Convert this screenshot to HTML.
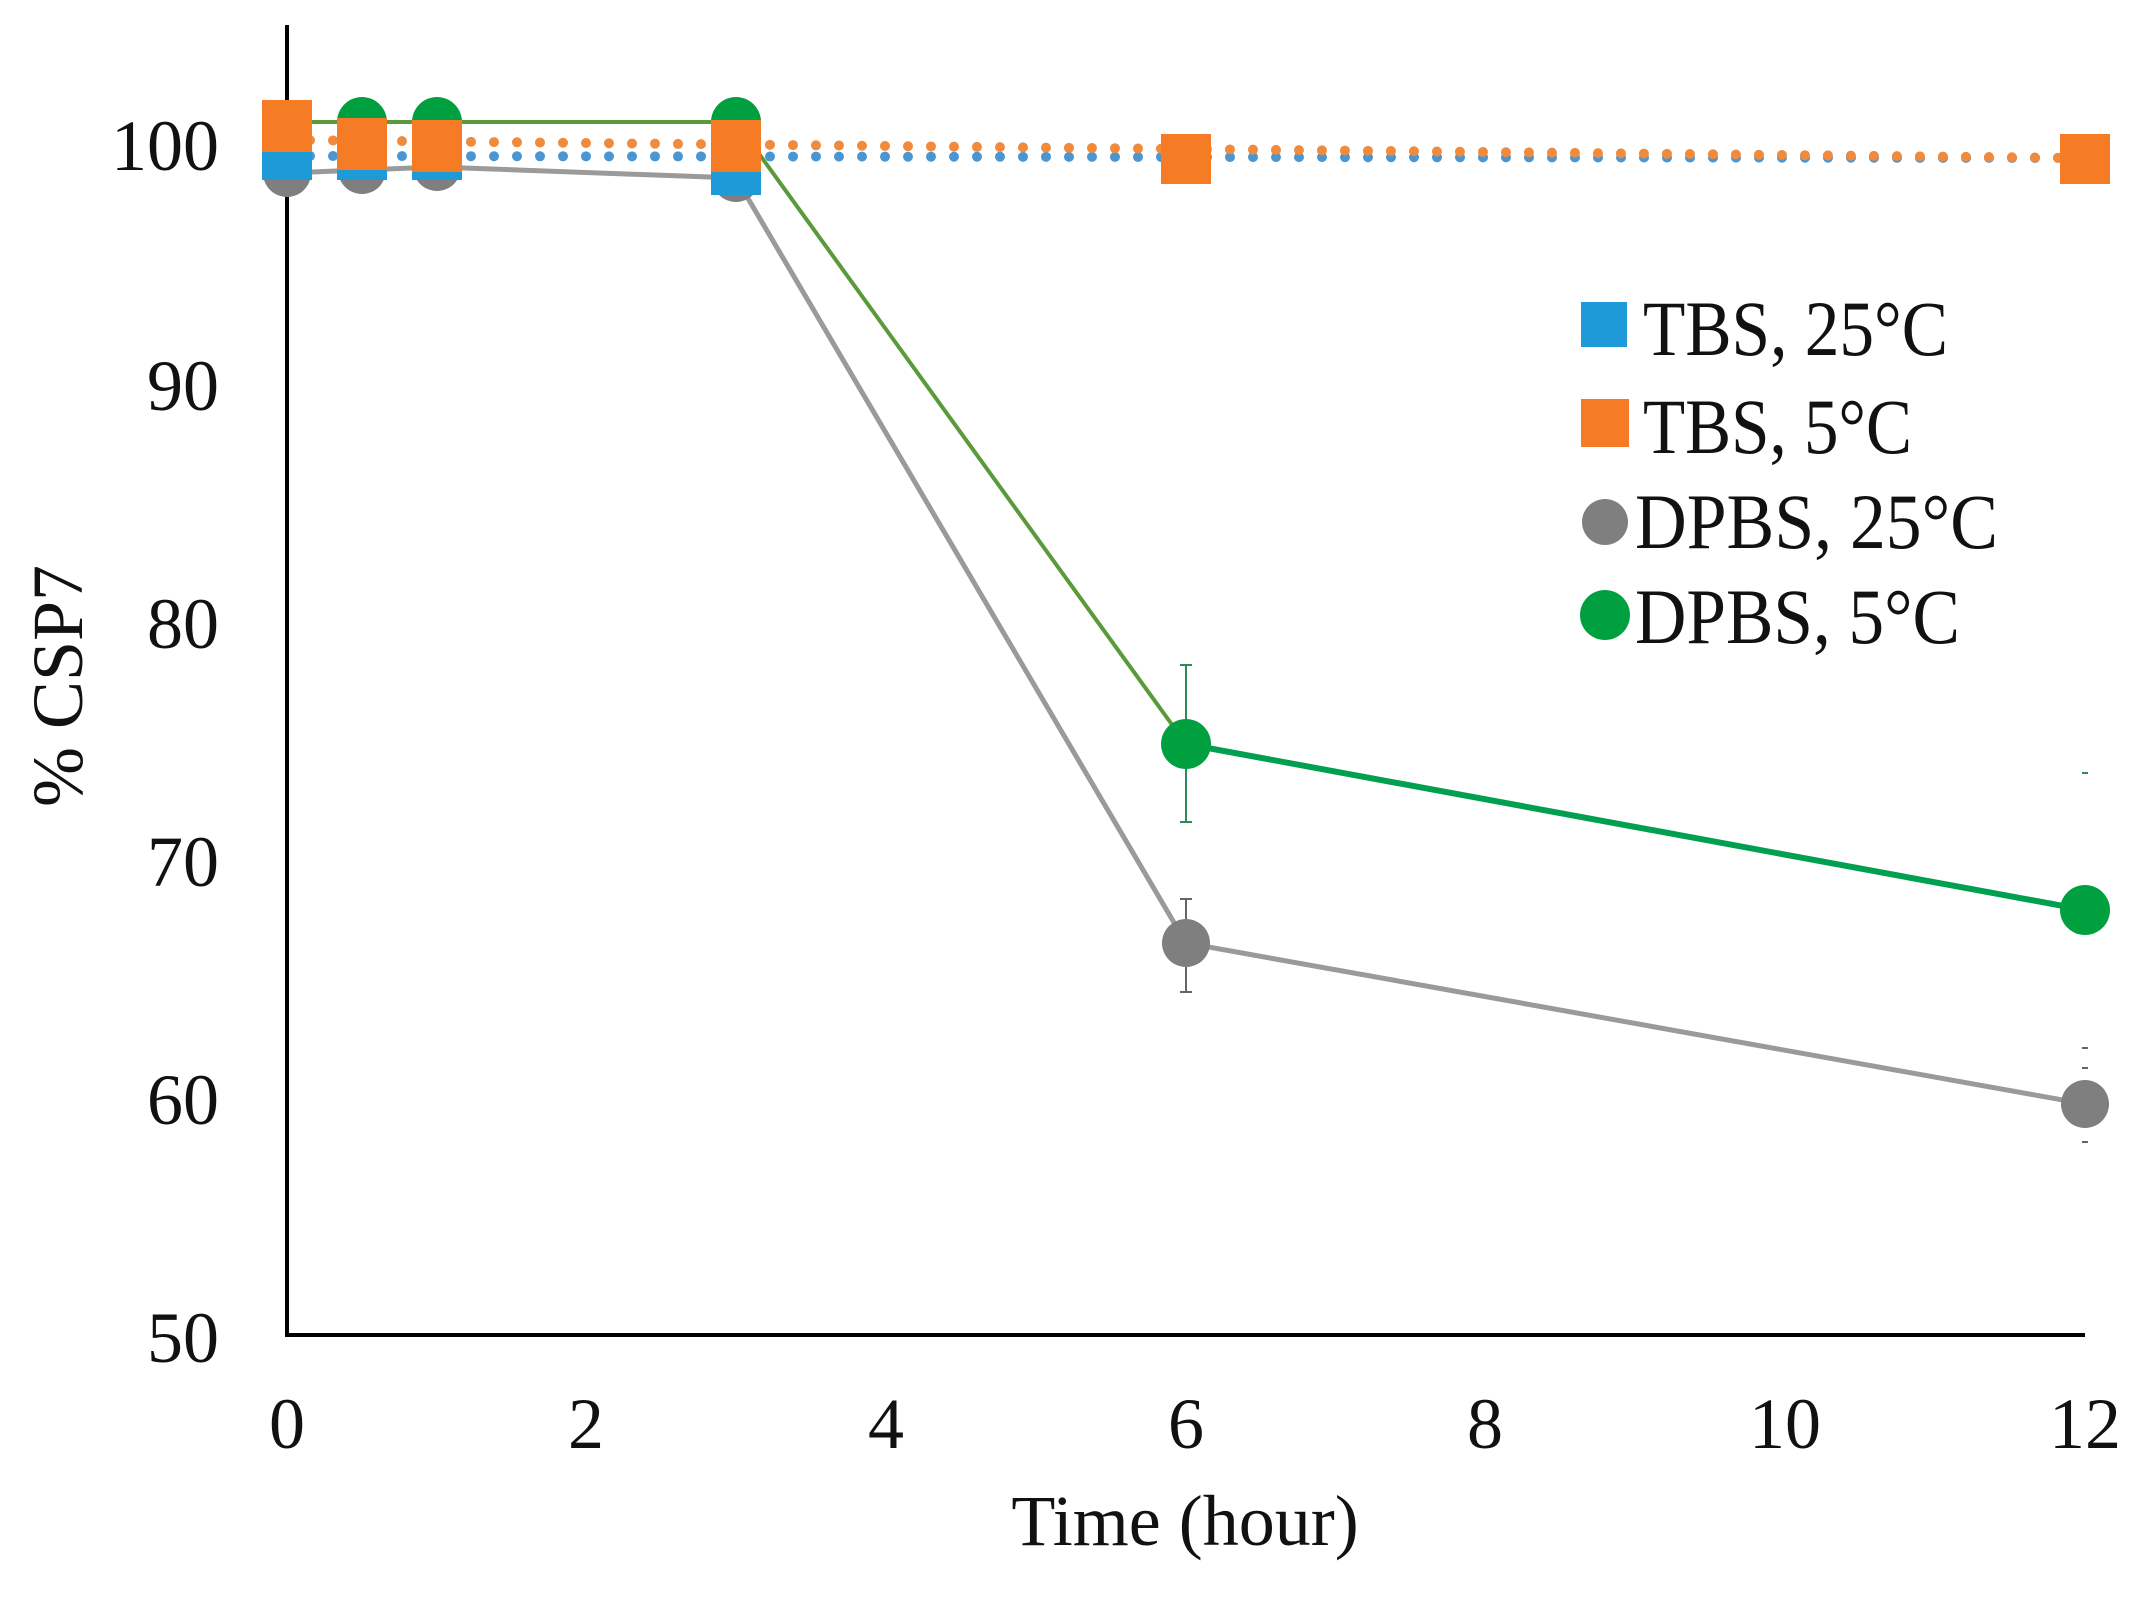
<!DOCTYPE html>
<html><head><meta charset="utf-8"><style>html,body{margin:0;padding:0;background:#fff}svg{display:block}</style></head>
<body>
<svg width="2151" height="1607" viewBox="0 0 2151 1607" xmlns="http://www.w3.org/2000/svg" font-family="Liberation Serif, serif">
<rect width="2151" height="1607" fill="#fff"/>
<line x1="287" y1="25" x2="287" y2="1335" stroke="#000" stroke-width="4"/>
<line x1="285" y1="1335" x2="2085" y2="1335" stroke="#000" stroke-width="4"/>
<g font-size="72" text-anchor="end" fill="#111">
<text x="219" y="1362">50</text>
<text x="219" y="1124">60</text>
<text x="219" y="886">70</text>
<text x="219" y="648">80</text>
<text x="219" y="410">90</text>
<text x="219" y="170">100</text>
</g>
<g font-size="72" text-anchor="middle" fill="#111">
<text x="287" y="1448">0</text>
<text x="586" y="1448">2</text>
<text x="886" y="1448">4</text>
<text x="1186" y="1448">6</text>
<text x="1485" y="1448">8</text>
<text x="1785" y="1448">10</text>
<text x="2085" y="1448">12</text>
<text x="1185" y="1545">Time (hour)</text>
</g>
<text x="0" y="0" font-size="72" text-anchor="middle" fill="#111" transform="translate(82,686) rotate(-90)">% CSP7</text>
<polyline points="287,173 362,170 437,167 736,178 1186,943 2085,1104" fill="none" stroke="#9a9a9a" stroke-width="5"/>
<polyline points="287,122 362,122 437,122 736,122 1186,744" fill="none" stroke="#5a9a3a" stroke-width="4"/>
<line x1="1186" y1="744" x2="2085" y2="910" stroke="#00a050" stroke-width="6"/>
<line x1="287" y1="156" x2="2085" y2="158" stroke="#4a96d2" stroke-width="10" stroke-linecap="round" stroke-dasharray="0 23"/>
<line x1="287" y1="140" x2="2085" y2="158" stroke="#f08a3c" stroke-width="10" stroke-linecap="round" stroke-dasharray="0 23"/>
<g stroke="#2e8b57" stroke-width="2">
<line x1="1186" y1="665" x2="1186" y2="822"/><line x1="1180" y1="665" x2="1192" y2="665"/><line x1="1180" y1="822" x2="1192" y2="822"/>
<line x1="2082" y1="773" x2="2088" y2="773"/>
</g>
<g stroke="#666" stroke-width="2">
<line x1="1186" y1="899" x2="1186" y2="992"/><line x1="1180" y1="899" x2="1192" y2="899"/><line x1="1180" y1="992" x2="1192" y2="992"/>
<line x1="2082" y1="1048" x2="2088" y2="1048"/><line x1="2082" y1="1068" x2="2088" y2="1068"/><line x1="2082" y1="1142" x2="2088" y2="1142"/>
</g>
<g fill="#7f7f7f">
<circle cx="287" cy="173" r="24"/><circle cx="362" cy="170" r="24"/><circle cx="437" cy="167" r="24"/><circle cx="736" cy="178" r="24"/>
<circle cx="1186" cy="943" r="24"/><circle cx="2085" cy="1104" r="24"/>
</g>
<g fill="#1f9ad8">
<rect x="262" y="130" width="50" height="50"/><rect x="337" y="130" width="50" height="50"/><rect x="412" y="130" width="50" height="50"/><rect x="711" y="145" width="50" height="50"/>
<rect x="1161" y="134" width="50" height="50"/><rect x="2060" y="134" width="50" height="50"/>
</g>
<g fill="#00a040">
<circle cx="362" cy="122" r="25"/><circle cx="437" cy="122" r="25"/><circle cx="736" cy="122" r="25"/>
<circle cx="1186" cy="744" r="25"/><circle cx="2085" cy="910" r="25"/>
</g>
<g fill="#f57c25">
<rect x="262" y="100" width="50" height="52"/><rect x="337" y="118" width="50" height="52"/><rect x="412" y="120" width="50" height="52"/><rect x="711" y="120" width="50" height="52"/>
<rect x="1161" y="134" width="50" height="50"/><rect x="2060" y="134" width="50" height="50"/>
</g>
<rect x="1581" y="302" width="46" height="45" fill="#1f9ad8"/>
<rect x="1581" y="399" width="48" height="48" fill="#f57c25"/>
<circle cx="1605" cy="522" r="23" fill="#7f7f7f"/>
<circle cx="1605" cy="615" r="25" fill="#00a040"/>
<g font-size="78" fill="#111">
<text x="1643" y="355" textLength="305" lengthAdjust="spacingAndGlyphs">TBS, 25°C</text>
<text x="1643" y="453" textLength="269" lengthAdjust="spacingAndGlyphs">TBS, 5°C</text>
<text x="1635" y="548" textLength="363" lengthAdjust="spacingAndGlyphs">DPBS, 25°C</text>
<text x="1635" y="643" textLength="325" lengthAdjust="spacingAndGlyphs">DPBS, 5°C</text>
</g>
</svg>
</body></html>
